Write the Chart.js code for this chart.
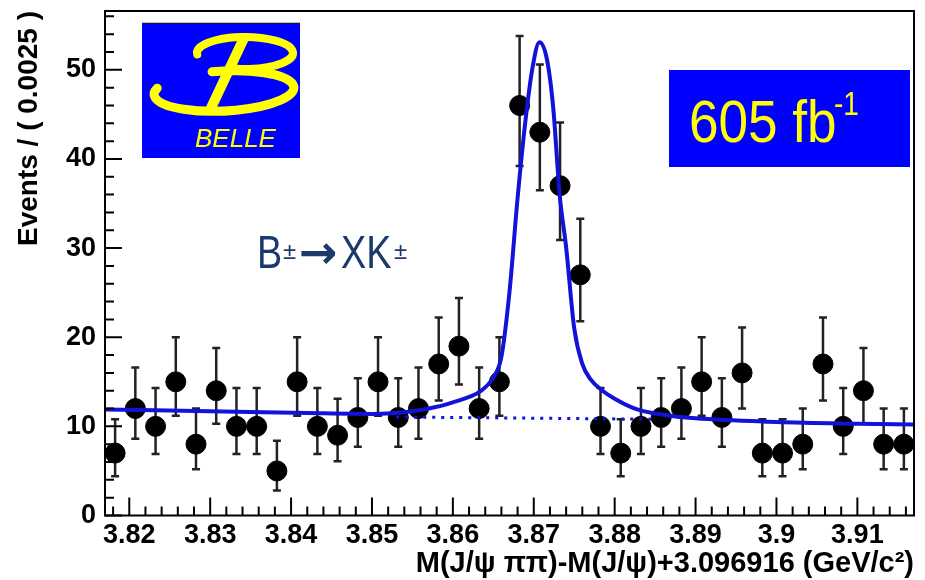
<!DOCTYPE html>
<html lang="en">
<head>
<meta charset="UTF-8">
<title>Belle - X(3872) em J/psi pi pi</title>
<script src="https://cdn.jsdelivr.net/npm/chart.js"></script>
<style>
  body { margin: 0; background: #fff; }
  #caixa { width: 925px; height: 580px; }
</style>
</head>
<body>
<div id="caixa"><canvas id="grafico"></canvas></div>
<script>
// centros dos bins (GeV/c^2), bins de 0.0025
var massa = [3.81825, 3.82075, 3.82325, 3.82575, 3.82825, 3.83075, 3.83325, 3.83575, 3.83825, 3.84075,
             3.84325, 3.84575, 3.84825, 3.85075, 3.85325, 3.85575, 3.85825, 3.86075, 3.86325, 3.86575,
             3.86825, 3.87075, 3.87325, 3.87575, 3.87825, 3.88075, 3.88325, 3.88575, 3.88825, 3.89075,
             3.89325, 3.89575, 3.89825, 3.90075, 3.90325, 3.90575, 3.90825, 3.91075, 3.91325, 3.91575];
var eventos = [7, 12, 10, 15, 8, 14, 10, 10, 5, 15,
               10, 9, 11, 15, 11, 12, 17, 19, 12, 15,
               46, 43, 37, 27, 10, 7, 10, 11, 12, 15,
               11, 16, 7, 7, 8, 17, 10, 14, 8, 8];
// barras de erro (assimetricas)
var erroCima = [3.8, 4.6, 4.3, 5.0, 4.0, 4.8, 4.3, 4.3, 3.4, 5.0,
                4.3, 4.1, 4.4, 5.0, 4.4, 4.6, 5.2, 5.4, 4.6, 5.0,
                7.8, 7.6, 7.1, 6.3, 4.3, 3.8, 4.3, 4.4, 4.6, 5.0,
                4.4, 5.1, 3.8, 3.8, 4.0, 5.2, 4.3, 4.8, 4.0, 4.0];
var erroBaixo = [2.6, 3.4, 3.1, 3.8, 2.8, 3.7, 3.1, 3.1, 2.2, 3.8,
                 3.1, 2.9, 3.3, 3.8, 3.3, 3.4, 4.1, 4.3, 3.4, 3.8,
                 6.8, 6.5, 6.1, 5.2, 3.1, 2.6, 3.1, 3.3, 3.4, 3.8,
                 3.3, 4.0, 2.6, 2.6, 2.8, 4.1, 3.1, 3.7, 2.8, 2.8];

// curva do ajuste (sinal + fundo)
var ajusteX = [3.817, 3.830, 3.842, 3.850, 3.855, 3.858, 3.860, 3.862, 3.8635, 3.865,
               3.866, 3.867, 3.868, 3.869, 3.8698, 3.8707, 3.8716, 3.8724, 3.8732, 3.874,
               3.875, 3.876, 3.877, 3.8785, 3.880, 3.8825, 3.886, 3.890, 3.900, 3.910, 3.917];
var ajusteY = [11.9, 11.7, 11.5, 11.4, 11.7, 12.2, 12.7, 13.3, 14.0, 15.5,
               17.8, 25.1, 35.6, 44.5, 50.0, 53.1, 51.3, 45.8, 36.0, 30.1,
               21.0, 17.0, 15.3, 14.0, 13.1, 12.0, 11.3, 10.9, 10.5, 10.3, 10.2];
// fundo (pontilhado) sob o pico
var fundoX = [3.853, 3.885];
var fundoY = [11.05, 10.8];

var xTicks = [3.82, 3.83, 3.84, 3.85, 3.86, 3.87, 3.88, 3.89, 3.90, 3.91];
var xLabels = ['3.82', '3.83', '3.84', '3.85', '3.86', '3.87', '3.88', '3.89', '3.9', '3.91'];
var yTicks = [0, 10, 20, 30, 40, 50];
var yLabels = ['0', '10', '20', '30', '40', '50'];

var azul = '#1212d8';
var fonte = "'Liberation Sans', Arial, Helvetica, sans-serif";

function pares(xs, ys) {
    var r = [];
    for (var i = 0; i < xs.length; i++) r.push({ x: xs[i], y: ys[i] });
    return r;
}

function semMargem(s) {
    s.paddingTop = 0; s.paddingBottom = 0;
    s.paddingLeft = 0; s.paddingRight = 0;
}

var desenhos = {
    id: 'desenhos',
    beforeDatasetsDraw(chart) {
        var ctx = chart.ctx, sx = chart.scales.x, sy = chart.scales.y;
        ctx.save();
        ctx.strokeStyle = '#222';
        ctx.lineWidth = 2.5;
        for (var i = 0; i < massa.length; i++) {
            var px = sx.getPixelForValue(massa[i]);
            var yt = sy.getPixelForValue(eventos[i] + erroCima[i]);
            var yb = sy.getPixelForValue(eventos[i] - erroBaixo[i]);
            ctx.beginPath();
            ctx.moveTo(px, yt); ctx.lineTo(px, yb);
            ctx.moveTo(px - 4, yt); ctx.lineTo(px + 4, yt);
            ctx.moveTo(px - 4, yb); ctx.lineTo(px + 4, yb);
            ctx.stroke();
        }
        ctx.restore();
    },
    afterDraw(chart) {
        var ctx = chart.ctx, a = chart.chartArea, sx = chart.scales.x, sy = chart.scales.y;
        ctx.save();
        // moldura
        ctx.strokeStyle = '#000';
        ctx.lineWidth = 2;
        ctx.strokeRect(a.left, a.top, a.right - a.left, a.bottom - a.top);
        // marcas para dentro
        ctx.beginPath();
        xTicks.forEach(function (v) {
            var p = sx.getPixelForValue(v);
            ctx.moveTo(p, a.bottom); ctx.lineTo(p, a.bottom - 18);
        });
        for (var v = 3.818; v < 3.917; v += 0.002) {
            var p = sx.getPixelForValue(v);
            ctx.moveTo(p, a.bottom); ctx.lineTo(p, a.bottom - 9);
        }
        yTicks.forEach(function (v) {
            var p = sy.getPixelForValue(v);
            ctx.moveTo(a.left, p); ctx.lineTo(a.left + 17, p);
        });
        for (var w = 2; w < 57; w += 2) {
            if (w % 10 == 0) continue;
            var q = sy.getPixelForValue(w);
            ctx.moveTo(a.left, q); ctx.lineTo(a.left + 9, q);
        }
        ctx.stroke();

        // logo BELLE
        ctx.fillStyle = '#0000ff';
        ctx.fillRect(142, 22, 158, 136);
        ctx.strokeStyle = '#d8d800';
        ctx.lineWidth = 1;
        ctx.beginPath(); ctx.moveTo(142, 22.5); ctx.lineTo(300, 22.5); ctx.stroke();
        ctx.strokeStyle = '#ffff00';
        ctx.fillStyle = '#ffff00';
        ctx.lineCap = 'round';
        ctx.lineWidth = 8;
        ctx.beginPath();
        ctx.ellipse(245, 53, 48, 16, 0, Math.PI * 0.97, Math.PI * 2.55);
        ctx.stroke();
        ctx.lineWidth = 9;
        ctx.beginPath();
        ctx.ellipse(224, 91, 70, 20, -0.05, Math.PI * 1.45, Math.PI * 3.1);
        ctx.stroke();
        ctx.lineWidth = 10;
        ctx.beginPath();
        ctx.moveTo(244, 38); ctx.lineTo(211, 108);
        ctx.stroke();
        ctx.font = 'italic 26px ' + fonte;
        ctx.textBaseline = 'alphabetic';
        ctx.textAlign = 'left';
        ctx.fillText('BELLE', 195, 147);

        // luminosidade
        ctx.fillStyle = '#0000ff';
        ctx.fillRect(669, 70, 241, 97);
        ctx.fillStyle = '#ffff00';
        ctx.save();
        ctx.translate(689, 142);
        ctx.scale(0.9, 1);
        ctx.font = '59px ' + fonte;
        ctx.fillText('605 fb', 0, 0);
        ctx.restore();
        ctx.save();
        ctx.translate(834, 115);
        ctx.scale(0.85, 1);
        ctx.font = '33px ' + fonte;
        ctx.fillText('-1', 0, 0);
        ctx.restore();

        // canal de decaimento
        ctx.fillStyle = '#1b3a6b';
        ctx.save();
        ctx.translate(257, 268);
        ctx.scale(0.82, 1);
        ctx.font = '46px ' + fonte;
        ctx.fillText('B', 0, 0);
        ctx.restore();
        ctx.font = '24px ' + fonte;
        ctx.fillText('\u00b1', 283, 259);
        ctx.font = 'bold 46px DejaVu Sans';
        ctx.fillText('\u2192', 299, 268);
        ctx.save();
        ctx.translate(341, 268);
        ctx.scale(0.82, 1);
        ctx.font = '46px ' + fonte;
        ctx.fillText('XK', 0, 0);
        ctx.restore();
        ctx.font = '24px ' + fonte;
        ctx.fillText('\u00b1', 394, 259);
        ctx.restore();
    }
};

new Chart(document.getElementById('grafico'), {
    type: 'scatter',
    data: {
        datasets: [{
            label: 'ajuste',
            type: 'line',
            data: pares(ajusteX, ajusteY),
            borderColor: azul,
            borderWidth: 4,
            pointRadius: 0,
            cubicInterpolationMode: 'monotone',
            fill: false,
            order: 0
        }, {
            label: 'fundo',
            type: 'line',
            data: pares(fundoX, fundoY),
            borderColor: azul,
            borderWidth: 3,
            borderDash: [3, 6],
            pointRadius: 0,
            fill: false,
            order: 1
        }, {
            label: 'dados',
            data: pares(massa, eventos),
            backgroundColor: '#000',
            borderColor: '#000',
            pointRadius: 10,
            order: 2
        }]
    },
    options: {
        responsive: true,
        maintainAspectRatio: false,
        animation: false,
        layout: { padding: { top: 10, right: 5, left: 0, bottom: 0 } },
        plugins: { legend: { display: false }, tooltip: { enabled: false } },
        scales: {
            x: {
                type: 'linear',
                min: 3.817,
                max: 3.917,
                afterBuildTicks: function (s) { s.ticks = xTicks.map(function (v) { return { value: v }; }); },
                afterFit: function (s) { s.height = 64.5; semMargem(s); },
                grid: { display: false, drawTicks: false },
                border: { display: false },
                ticks: {
                    autoSkip: false,
                    maxRotation: 0,
                    padding: 4,
                    color: '#000',
                    font: { family: fonte, size: 27, weight: 'bold' },
                    callback: function (v, i) { return xLabels[i]; }
                },
                title: {
                    display: true,
                    text: 'M(J/\u03c8 \u03c0\u03c0)-M(J/\u03c8)+3.096916 (GeV/c\u00b2)',
                    align: 'end',
                    color: '#000',
                    padding: { top: 0, bottom: -1 },
                    font: { family: fonte, size: 29, weight: 'bold' }
                }
            },
            y: {
                min: 0,
                max: 56.6,
                afterBuildTicks: function (s) { s.ticks = yTicks.map(function (v) { return { value: v }; }); },
                afterFit: function (s) { s.width = 105; semMargem(s); },
                grid: { display: false, drawTicks: false },
                border: { display: false },
                ticks: {
                    autoSkip: false,
                    padding: 9,
                    color: '#000',
                    font: { family: fonte, size: 27, weight: 'bold' },
                    callback: function (v, i) { return yLabels[i]; }
                },
                title: {
                    display: true,
                    text: 'Events / ( 0.0025 )',
                    align: 'end',
                    color: '#000',
                    padding: { top: 12, bottom: 0 },
                    font: { family: fonte, size: 28, weight: 'bold' }
                }
            }
        }
    },
    plugins: [desenhos]
});
</script>
</body>
</html>
